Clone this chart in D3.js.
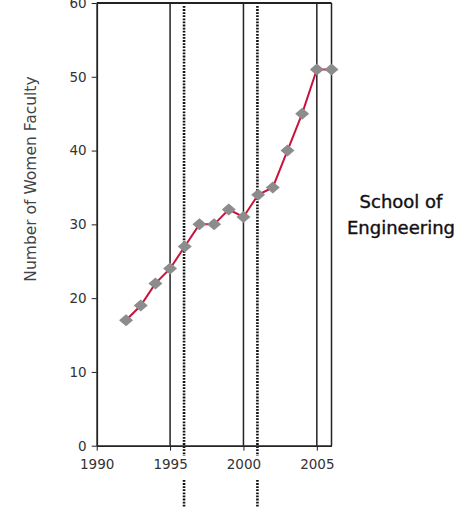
<!DOCTYPE html>
<html>
<head>
<meta charset="utf-8">
<script src="https://cdn.jsdelivr.net/npm/d3@7"></script>
<style>
  body { margin: 0; background: #fff; }
  text { font-family: "DejaVu Sans", sans-serif; }
</style>
</head>
<body>
<svg id="chart" width="467" height="508"></svg>
<script>
let years = [1992, 1993, 1994, 1995, 1996, 1997, 1998, 1999, 2000, 2001, 2002, 2003, 2004, 2005, 2006];
let women = [17, 19, 22, 24, 27, 30, 30, 32, 31, 34, 35, 40, 45, 51, 51];
let solidYears = [1995, 2000, 2005, 2006];
let dottedYears = [1996, 2001];
let xTicks = [1990, 1995, 2000, 2005];
let yTicks = [0, 10, 20, 30, 40, 50, 60];

let svg = d3.select('#chart');

let xScale = d3.scaleLinear().domain([1990, 2006]).range([96.7, 331.5]);
let yScale = d3.scaleLinear().domain([0, 60]).range([445.7, 3]);

// vertical reference lines
svg.append('g').selectAll('line')
  .data(solidYears)
  .enter()
  .append('line')
    .attr('x1', d => xScale(d)).attr('x2', d => xScale(d))
    .attr('y1', yScale(60)).attr('y2', yScale(0))
    .attr('stroke', '#222').attr('stroke-width', 1.5);

// top border
svg.append('line')
  .attr('x1', xScale(1990)).attr('x2', xScale(2006))
  .attr('y1', yScale(60)).attr('y2', yScale(60))
  .attr('stroke', '#222').attr('stroke-width', 1.8);

// dotted lines (with a gap below the axis)
let dotted = svg.append('g');
for (let yr of dottedYears) {
  for (let seg of [[6, 456], [480, 508]]) {
    dotted.append('line')
      .attr('x1', xScale(yr) - 0.7).attr('x2', xScale(yr) - 0.7)
      .attr('y1', seg[0]).attr('y2', seg[1])
      .attr('stroke', '#111').attr('stroke-width', 2.6)
      .attr('stroke-dasharray', '1.8,1.3');
  }
}

// axes
let xAxis = d3.axisBottom(xScale).tickValues(xTicks).tickFormat(d3.format('d')).tickSize(5).tickSizeOuter(0);
let gx = svg.append('g')
  .attr('transform', `translate(0, ${yScale(0)})`)
  .call(xAxis);
gx.select('.domain').attr('stroke', '#222').attr('stroke-width', 1.8);
gx.selectAll('.tick line').attr('stroke', '#222');
gx.selectAll('text').attr('font-size', 13.5).attr('fill', '#333').attr('y', 10).attr('dy', '0.95em');

let yAxis = d3.axisLeft(yScale).tickValues(yTicks).tickSize(5).tickSizeOuter(0);
let gy = svg.append('g')
  .attr('transform', `translate(${xScale(1990)}, 0)`)
  .call(yAxis);
gy.select('.domain').attr('stroke', '#222').attr('stroke-width', 1.8);
gy.selectAll('.tick line').attr('stroke', '#222');
gy.selectAll('text').attr('font-size', 13.5).attr('fill', '#333').attr('x', -10);

// y axis label
svg.append('text')
  .attr('transform', 'translate(36, 179) rotate(-90)')
  .attr('text-anchor', 'middle')
  .attr('font-size', 15.5)
  .attr('fill', '#444')
  .text('Number of Women Faculty');

// data line
let line = d3.line()
  .x((d, i) => xScale(years[i]))
  .y(d => yScale(d));

svg.append('path')
  .datum(women)
  .attr('d', line)
  .attr('fill', 'none')
  .attr('stroke', '#c8143c')
  .attr('stroke-width', 2);

// diamond markers
let diamond = 'M0,-6L7,0L0,6L-7,0Z';
svg.append('g').selectAll('path')
  .data(women)
  .enter()
  .append('path')
    .attr('d', diamond)
    .attr('transform', (d, i) => `translate(${xScale(years[i])}, ${yScale(d)})`)
    .attr('fill', '#8c8c8c');

// title on the right
let title = svg.append('text')
  .attr('text-anchor', 'middle')
  .attr('font-size', 18)
  .attr('fill', '#111')
  .attr('stroke', '#111')
  .attr('stroke-width', 0.4);
title.append('tspan').attr('x', 401).attr('y', 208).text('School of');
title.append('tspan').attr('x', 401).attr('y', 234).text('Engineering');
</script>
</body>
</html>
